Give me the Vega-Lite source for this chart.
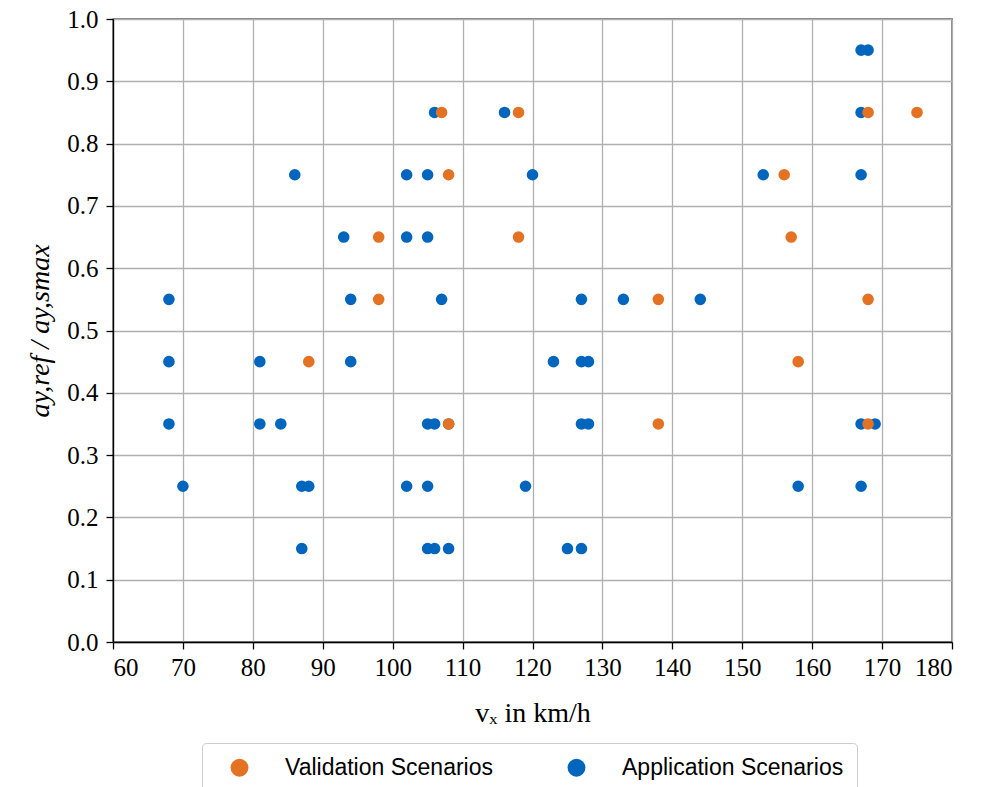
{
  "$schema": "https://vega.github.io/schema/vega-lite/v6.json",
  "width": 839,
  "height": 623,
  "autosize": {"type": "none"},
  "padding": {"left": 113, "top": 19, "right": 29, "bottom": 145},
  "background": "white",
  "config": {
    "view": {"stroke": "black", "strokeWidth": 1.3},
    "axis": {
      "labelFont": "Liberation Serif",
      "labelFontSize": 25,
      "labelColor": "black",
      "titleFont": "Liberation Serif",
      "titleFontSize": 28,
      "titleFontWeight": "normal",
      "titleColor": "black",
      "tickColor": "black",
      "tickSize": 7,
      "tickWidth": 1.3,
      "domainColor": "black",
      "domainWidth": 1.3,
      "gridColor": "#b0b0b0",
      "gridWidth": 1.3,
      "gridOpacity": 1
    }
  },
  "data": {
    "values": [
      {"v": 167, "a": 0.95, "s": "Application Scenarios"},
      {"v": 168, "a": 0.95, "s": "Application Scenarios"},
      {"v": 106, "a": 0.85, "s": "Application Scenarios"},
      {"v": 116, "a": 0.85, "s": "Application Scenarios"},
      {"v": 167, "a": 0.85, "s": "Application Scenarios"},
      {"v": 86, "a": 0.75, "s": "Application Scenarios"},
      {"v": 102, "a": 0.75, "s": "Application Scenarios"},
      {"v": 105, "a": 0.75, "s": "Application Scenarios"},
      {"v": 120, "a": 0.75, "s": "Application Scenarios"},
      {"v": 153, "a": 0.75, "s": "Application Scenarios"},
      {"v": 167, "a": 0.75, "s": "Application Scenarios"},
      {"v": 93, "a": 0.65, "s": "Application Scenarios"},
      {"v": 102, "a": 0.65, "s": "Application Scenarios"},
      {"v": 105, "a": 0.65, "s": "Application Scenarios"},
      {"v": 68, "a": 0.55, "s": "Application Scenarios"},
      {"v": 94, "a": 0.55, "s": "Application Scenarios"},
      {"v": 107, "a": 0.55, "s": "Application Scenarios"},
      {"v": 127, "a": 0.55, "s": "Application Scenarios"},
      {"v": 133, "a": 0.55, "s": "Application Scenarios"},
      {"v": 144, "a": 0.55, "s": "Application Scenarios"},
      {"v": 68, "a": 0.45, "s": "Application Scenarios"},
      {"v": 81, "a": 0.45, "s": "Application Scenarios"},
      {"v": 94, "a": 0.45, "s": "Application Scenarios"},
      {"v": 123, "a": 0.45, "s": "Application Scenarios"},
      {"v": 127, "a": 0.45, "s": "Application Scenarios"},
      {"v": 128, "a": 0.45, "s": "Application Scenarios"},
      {"v": 68, "a": 0.35, "s": "Application Scenarios"},
      {"v": 81, "a": 0.35, "s": "Application Scenarios"},
      {"v": 84, "a": 0.35, "s": "Application Scenarios"},
      {"v": 105, "a": 0.35, "s": "Application Scenarios"},
      {"v": 106, "a": 0.35, "s": "Application Scenarios"},
      {"v": 108, "a": 0.35, "s": "Application Scenarios"},
      {"v": 127, "a": 0.35, "s": "Application Scenarios"},
      {"v": 128, "a": 0.35, "s": "Application Scenarios"},
      {"v": 167, "a": 0.35, "s": "Application Scenarios"},
      {"v": 169, "a": 0.35, "s": "Application Scenarios"},
      {"v": 70, "a": 0.25, "s": "Application Scenarios"},
      {"v": 87, "a": 0.25, "s": "Application Scenarios"},
      {"v": 88, "a": 0.25, "s": "Application Scenarios"},
      {"v": 102, "a": 0.25, "s": "Application Scenarios"},
      {"v": 105, "a": 0.25, "s": "Application Scenarios"},
      {"v": 119, "a": 0.25, "s": "Application Scenarios"},
      {"v": 158, "a": 0.25, "s": "Application Scenarios"},
      {"v": 167, "a": 0.25, "s": "Application Scenarios"},
      {"v": 87, "a": 0.15, "s": "Application Scenarios"},
      {"v": 105, "a": 0.15, "s": "Application Scenarios"},
      {"v": 106, "a": 0.15, "s": "Application Scenarios"},
      {"v": 108, "a": 0.15, "s": "Application Scenarios"},
      {"v": 125, "a": 0.15, "s": "Application Scenarios"},
      {"v": 127, "a": 0.15, "s": "Application Scenarios"},
      {"v": 107, "a": 0.85, "s": "Validation Scenarios"},
      {"v": 118, "a": 0.85, "s": "Validation Scenarios"},
      {"v": 168, "a": 0.85, "s": "Validation Scenarios"},
      {"v": 175, "a": 0.85, "s": "Validation Scenarios"},
      {"v": 108, "a": 0.75, "s": "Validation Scenarios"},
      {"v": 156, "a": 0.75, "s": "Validation Scenarios"},
      {"v": 98, "a": 0.65, "s": "Validation Scenarios"},
      {"v": 118, "a": 0.65, "s": "Validation Scenarios"},
      {"v": 157, "a": 0.65, "s": "Validation Scenarios"},
      {"v": 98, "a": 0.55, "s": "Validation Scenarios"},
      {"v": 138, "a": 0.55, "s": "Validation Scenarios"},
      {"v": 168, "a": 0.55, "s": "Validation Scenarios"},
      {"v": 88, "a": 0.45, "s": "Validation Scenarios"},
      {"v": 158, "a": 0.45, "s": "Validation Scenarios"},
      {"v": 108, "a": 0.35, "s": "Validation Scenarios"},
      {"v": 138, "a": 0.35, "s": "Validation Scenarios"},
      {"v": 168, "a": 0.35, "s": "Validation Scenarios"}
    ]
  },
  "mark": {"type": "circle", "size": 135, "opacity": 1},
  "encoding": {
    "x": {
      "field": "v",
      "type": "quantitative",
      "scale": {"domain": [60, 180], "nice": false, "zero": false},
      "axis": {
        "values": [60, 70, 80, 90, 100, 110, 120, 130, 140, 150, 160, 170, 180],
        "title": "vₓ  in  km/h",
        "labelPadding": 6,
        "titlePadding": 19
      }
    },
    "y": {
      "field": "a",
      "type": "quantitative",
      "scale": {"domain": [0, 1], "nice": false},
      "axis": {
        "values": [0, 0.1, 0.2, 0.3, 0.4, 0.5, 0.6, 0.7, 0.8, 0.9, 1.0],
        "format": ".1f",
        "title": "ay,ref / ay,smax",
        "titleFontStyle": "italic",
        "labelPadding": 8,
        "titlePadding": 12
      }
    },
    "color": {
      "field": "s",
      "type": "nominal",
      "scale": {
        "domain": ["Validation Scenarios", "Application Scenarios"],
        "range": ["#E37222", "#0065BD"]
      },
      "legend": {
        "title": null,
        "orient": "none",
        "legendX": 89,
        "legendY": 724,
        "direction": "horizontal",
        "columns": 2,
        "symbolType": "circle",
        "symbolSize": 320,
        "symbolOpacity": 1,
        "labelFont": "Liberation Sans",
        "labelFontSize": 23,
        "labelColor": "black",
        "labelLimit": 400,
        "labelOffset": 34,
        "columnPadding": 59,
        "padding": 13,
        "symbolOffset": 13,
        "strokeColor": "#cccccc",
        "fillColor": "white",
        "cornerRadius": 4
      }
    },
    "order": {"field": "s", "sort": "ascending"}
  }
}
